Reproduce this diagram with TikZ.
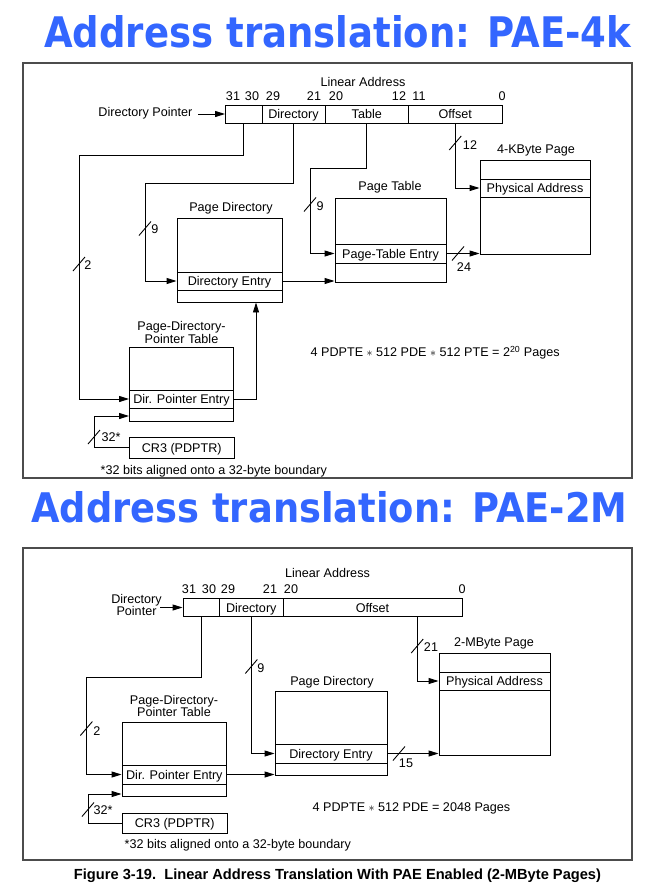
\documentclass[tikz,border=0pt]{standalone}
\usepackage{fontspec}
\setmainfont{Liberation Sans}
\newfontfamily\titlefont{DejaVu Sans}
\usetikzlibrary{arrows.meta,calc}
\definecolor{titleblue}{HTML}{3366FF}
\newcommand\slashmark[1]{\draw[conn] ($(#1)+(-6,7)$) -- ($(#1)+(6,-7)$);}
\begin{document}
\begin{tikzpicture}[x=1pt,y=-1pt,
  font=\fontsize{12.6}{11.5}\selectfont,
  cell/.style={draw, line width=0.9pt, inner sep=0pt, anchor=center, text height=9pt, text depth=0pt},
  lbl/.style={inner sep=0.5pt, align=center},
  conn/.style={line width=0.9pt},
  arr/.style={conn, -{Triangle[length=10pt,width=6pt]}},
  frame/.style={draw=black!70, line width=1.6pt},
  title/.style={text=titleblue, inner sep=0pt, anchor=base west}]
\useasboundingbox (0,0) rectangle (654,886);

% ---------- titles ----------
\node[title] (t1) at (44,47) {\resizebox{587pt}{32pt}{\titlefont\bfseries Address translation: PAE-4k}};
\node[title] (t2) at (31,522) {\resizebox{596pt}{31pt}{\titlefont\bfseries Address translation: PAE-2M}};

% ---------- frames ----------
\draw[frame] (23,63) rectangle (632,478);
\draw[frame] (23,548) rectangle (632,860);

% ================= TOP (4K) =================
\node[lbl] (latitle) at (363,82) {Linear Address};
\node[lbl] (b31) at (233,96) {31};
\node[lbl] (b30) at (252,96) {30};
\node[lbl] (b29) at (273,96) {29};
\node[lbl] (b21) at (314,96) {21};
\node[lbl] (b20) at (336,96) {20};
\node[lbl] (b12) at (399,96) {12};
\node[lbl] (b11) at (419,96) {11};
\node[lbl] (b0) at (502,96) {0};

\node[cell, minimum width=36.5pt, minimum height=18pt] (la1) at (243.75,114) {};
\node[cell, minimum width=63pt, minimum height=18pt] (la2) at (293.5,114) {Directory};
\node[cell, minimum width=83.5pt, minimum height=18pt] (la3) at (366.75,114) {Table};
\node[cell, minimum width=93.5pt, minimum height=18pt] (la4) at (455.25,114) {Offset};

\node[lbl, anchor=east] (dp) at (193,113) {Directory Pointer};
\coordinate (dpa) at (198,114);
\draw[arr] (dpa) -- (la1.west);

% 4-KByte page
\node[lbl] (pglbl) at (536,150) {4-KByte Page};
\node[cell, minimum width=110pt, minimum height=19pt] (pgtop) at (535,169.5) {};
\node[cell, minimum width=110pt, minimum height=18pt] (pa) at (535,188) {Physical Address};
\node[cell, minimum width=110pt, minimum height=57pt] (pgbot) at (535,225.5) {};

% Page table
\node[lbl] (ptlbl) at (390,187) {Page Table};
\node[cell, minimum width=111pt, minimum height=46pt] (pttop) at (390.5,221) {};
\node[cell, minimum width=111pt, minimum height=19pt] (pte) at (390.5,253.5) {Page-Table Entry};
\node[cell, minimum width=111pt, minimum height=19pt] (ptbot) at (390.5,272.5) {};

% Page directory
\node[lbl] (pdlbl) at (231,208) {Page Directory};
\node[cell, minimum width=105pt, minimum height=54pt] (pdtop) at (229.5,245) {};
\node[cell, minimum width=105pt, minimum height=18pt] (de) at (229.5,281) {Directory Entry};
\node[cell, minimum width=105pt, minimum height=12pt] (pdbot) at (229.5,296) {};

% PDPT
\node[lbl] (pdptlbl) at (181.5,332.5) {Page-Directory-\\Pointer Table};
\node[cell, minimum width=104pt, minimum height=43pt] (pdpttop) at (181.5,368.5) {};
\node[cell, minimum width=104pt, minimum height=18pt] (dpe) at (181.5,399) {Dir. Pointer Entry};
\node[cell, minimum width=104pt, minimum height=13pt] (pdptbot) at (181.5,414.5) {};

\node[cell, minimum width=104.5pt, minimum height=21pt] (cr3) at (181.75,447.5) {CR3 (PDPTR)};

% connectors top
\coordinate (k1) at (79,155);
\coordinate (k2) at (145,183);
\coordinate (k3) at (310,168);
\coordinate (k4) at (94,416);
\coordinate (k5) at (256,399);
\draw[arr] (la1.south) |- (k1) |- (dpe.west);
\draw[arr] (la2.south) |- (k2) |- (de.west);
\draw[arr] (la3.south) |- (k3) |- (pte.west);
\draw[arr] (la4.south) |- (pa.west);
\draw[arr] (de.east) -- (de.east -| ptbot.west);
\draw[arr] (pte.east) -- (pte.east -| pgbot.west);
\draw[arr] (dpe.east) -- (k5) -- (k5 |- pdbot.south);
\draw[arr] (cr3.west) -| (k4) -- (k4 -| pdptbot.west);

% slashes and widths top
\coordinate (s1) at (455.25,143); \slashmark{s1}
\node[lbl] (w1) at (470,145) {12};
\coordinate (s2) at (310,204.5); \slashmark{s2}
\node[lbl] (w2) at (320,206) {9};
\coordinate (s3) at (145,228.5); \slashmark{s3}
\node[lbl] (w3) at (155,229) {9};
\coordinate (s4) at (79,264); \slashmark{s4}
\node[lbl] (w4) at (88,265) {2};
\coordinate (s5) at (458,253.5); \slashmark{s5}
\node[lbl] (w5) at (464,267) {24};
\coordinate (s6) at (94,437); \slashmark{s6}
\node[lbl] (w6) at (111,437) {32*};

\node[lbl, anchor=west] (form1) at (310,353) {4 PDPTE $\ast$ 512 PDE $\ast$ 512 PTE = 2\textsuperscript{20} Pages};
\node[lbl, anchor=west] (foot1) at (100,471) {*32 bits aligned onto a 32-byte boundary};

% ================= BOTTOM (2M) =================
\node[lbl] (lbtitle) at (327.5,573) {Linear Address};
\node[lbl] (c31) at (189,589) {31};
\node[lbl] (c30) at (209,589) {30};
\node[lbl] (c29) at (228,589) {29};
\node[lbl] (c21) at (270,589) {21};
\node[lbl] (c20) at (291,589) {20};
\node[lbl] (c0) at (462,589) {0};

\node[cell, minimum width=36.6pt, minimum height=18pt] (lb1) at (201.3,607.5) {};
\node[cell, minimum width=63.4pt, minimum height=18pt] (lb2) at (251.3,607.5) {Directory};
\node[cell, minimum width=179pt, minimum height=18pt] (lb3) at (372.5,607.5) {Offset};

\node[lbl] (dp2) at (136.5,605) {Directory\\Pointer};
\coordinate (dp2a) at (160,607.5);
\draw[arr] (dp2a) -- (lb1.west);

% 2-MByte page
\node[lbl] (pg2lbl) at (494,643) {2-MByte Page};
\node[cell, minimum width=111pt, minimum height=19pt] (pg2top) at (494.5,662.5) {};
\node[cell, minimum width=111pt, minimum height=18pt] (pa2) at (494.5,681) {Physical Address};
\node[cell, minimum width=111pt, minimum height=65pt] (pg2bot) at (494.5,722.5) {};

% Page directory
\node[lbl] (pd2lbl) at (332,682) {Page Directory};
\node[cell, minimum width=112pt, minimum height=53pt] (pd2top) at (331,717.5) {};
\node[cell, minimum width=112pt, minimum height=19pt] (de2) at (331,753.5) {Directory Entry};
\node[cell, minimum width=112pt, minimum height=12pt] (pd2bot) at (331,769) {};

% PDPT
\node[lbl] (pdpt2lbl) at (174,706) {Page-Directory-\\Pointer Table};
\node[cell, minimum width=104.7pt, minimum height=43pt] (pdpt2top) at (174.35,743.5) {};
\node[cell, minimum width=104.7pt, minimum height=19pt] (dpe2) at (174.35,774.5) {Dir. Pointer Entry};
\node[cell, minimum width=104.7pt, minimum height=12pt] (pdpt2bot) at (174.35,790) {};

\node[cell, minimum width=105.5pt, minimum height=20pt] (cr3b) at (174.75,823) {CR3 (PDPTR)};

% connectors bottom
\coordinate (m1) at (86.4,677);
\coordinate (m2) at (88,794);
\coordinate (m3) at ($(lb3.south west)!0.75!(lb3.south east)$);
\draw[arr] (lb1.south) |- (m1) |- (dpe2.west);
\draw[arr] (lb2.south) |- (de2.west);
\draw[arr] (m3) |- (pa2.west);
\draw[arr] (dpe2.east) -- (dpe2.east -| pd2bot.west);
\draw[arr] (de2.east) -- (de2.east -| pg2bot.west);
\draw[arr] (cr3b.west) -| (m2) -- (m2 -| pdpt2bot.west);

% slashes and widths bottom
\coordinate (r1) at (417.25,646); \slashmark{r1}
\node[lbl] (v1) at (431,647) {21};
\coordinate (r2) at (251.3,666.5); \slashmark{r2}
\node[lbl] (v2) at (261,668) {9};
\coordinate (r3) at (86.4,728.5); \slashmark{r3}
\node[lbl] (v3) at (97,731) {2};
\coordinate (r4) at (399,753.5); \slashmark{r4}
\node[lbl] (v4) at (406,763) {15};
\coordinate (r5) at (88,809.5); \slashmark{r5}
\node[lbl] (v5) at (103,810) {32*};

\node[lbl, anchor=west] (form2) at (312,808) {4 PDPTE $\ast$ 512 PDE = 2048 Pages};
\node[lbl, anchor=west] (foot2) at (124,845) {*32 bits aligned onto a 32-byte boundary};

% caption
\node[inner sep=0pt] (cap) at (337.5,876) {\resizebox{527pt}{!}{\bfseries Figure 3-19.\ \ Linear Address Translation With PAE Enabled (2-MByte Pages)}};
\end{tikzpicture}
\end{document}
